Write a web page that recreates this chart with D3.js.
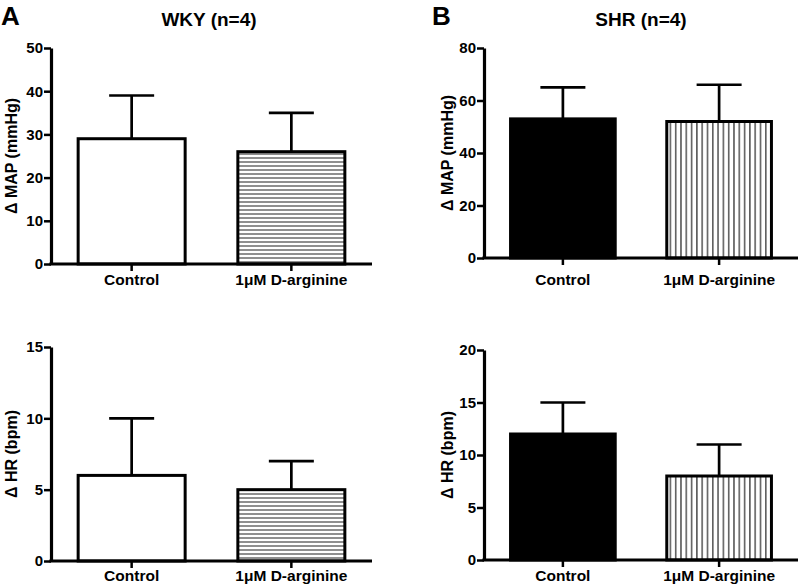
<!DOCTYPE html>
<html><head><meta charset="utf-8">
<script src="https://cdn.jsdelivr.net/npm/d3@7"></script>
<style>body{margin:0;background:#fff;} text{font-family:"Liberation Sans",Arial,sans-serif;font-weight:bold;fill:#000;}</style>
</head><body>
<svg id="c" width="800" height="588"></svg>
<script>
const categories = ["Control", "1\u03bcM D-arginine"];
const wkyMap = [29, 26];
const wkyMapErr = [39, 35];
const wkyHr = [6, 5];
const wkyHrErr = [10, 7];
const shrMap = [53, 52];
const shrMapErr = [65, 66];
const shrHr = [12, 8];
const shrHrErr = [15, 11];
const mapTicks = { wky: [0, 10, 20, 30, 40, 50], shr: [0, 20, 40, 60, 80] };
const hrTicks = { wky: [0, 5, 10, 15], shr: [0, 5, 10, 15, 20] };

const svg = d3.select("#c");
const defs = svg.append("defs");
// horizontal hatch
const ph = defs.append("pattern").attr("id", "hh").attr("patternUnits", "userSpaceOnUse").attr("width", 8).attr("height", 4);
ph.append("rect").attr("width", 8).attr("height", 4).attr("fill", "#fff");
ph.append("line").attr("x1", 0).attr("x2", 8).attr("y1", 2).attr("y2", 2).attr("stroke", "#333").attr("stroke-width", 1.1);
// vertical hatch
const pv = defs.append("pattern").attr("id", "vh").attr("patternUnits", "userSpaceOnUse").attr("width", 5.3).attr("height", 8);
pv.append("rect").attr("width", 5.3).attr("height", 8).attr("fill", "#fff");
pv.append("line").attr("x1", 2.6).attr("x2", 2.6).attr("y1", 0).attr("y2", 8).attr("stroke", "#111").attr("stroke-width", 1.1);

const panels = [
  { vals: wkyMap, errs: wkyMapErr, ticks: mapTicks.wky, x0: 51, x1: 372, yBot: 264, yTop: 48, label: "\u0394 MAP (mmHg)", lx: 11, fills: ["#fff", "url(#hh)"], catY: 285 },
  { vals: wkyHr, errs: wkyHrErr, ticks: hrTicks.wky, x0: 51, x1: 372, yBot: 561, yTop: 347, label: "\u0394 HR (bpm)", lx: 11, fills: ["#fff", "url(#hh)"], catY: 581 },
  { vals: shrMap, errs: shrMapErr, ticks: mapTicks.shr, x0: 484, x1: 798, yBot: 258, yTop: 48, label: "\u0394 MAP (mmHg)", lx: 447, fills: ["#000", "url(#vh)"], catY: 285 },
  { vals: shrHr, errs: shrHrErr, ticks: hrTicks.shr, x0: 484, x1: 798, yBot: 560, yTop: 350, label: "\u0394 HR (bpm)", lx: 447, fills: ["#000", "url(#vh)"], catY: 581 }
];

panels.forEach(p => {
  const g = svg.append("g");
  const x = d3.scaleBand().domain(categories).range([p.x0, p.x1]).paddingInner(0.33).paddingOuter(0.17);
  const y = d3.scaleLinear().domain([p.ticks[0], p.ticks[p.ticks.length - 1]]).range([p.yBot, p.yTop]);
  const capW = 45;
  // error bars
  categories.forEach((c, i) => {
    const cx = x(c) + x.bandwidth() / 2;
    g.append("line").attr("x1", cx).attr("x2", cx).attr("y1", y(p.vals[i])).attr("y2", y(p.errs[i])).attr("stroke", "#000").attr("stroke-width", 2.7);
    g.append("line").attr("x1", cx - capW / 2).attr("x2", cx + capW / 2).attr("y1", y(p.errs[i])).attr("y2", y(p.errs[i])).attr("stroke", "#000").attr("stroke-width", 2.7);
  });
  // bars
  categories.forEach((c, i) => {
    g.append("rect").attr("x", x(c)).attr("width", x.bandwidth())
      .attr("y", y(p.vals[i])).attr("height", y(0) - y(p.vals[i]))
      .attr("fill", p.fills[i]).attr("stroke", "#000").attr("stroke-width", 3);
  });
  // y axis
  const ya = g.append("g").attr("transform", `translate(${p.x0},0)`)
    .call(d3.axisLeft(y).tickValues(p.ticks).tickSize(7).tickPadding(1).tickSizeOuter(0));
  ya.select("path").attr("stroke", "#000").attr("stroke-width", 3.2);
  ya.selectAll("line").attr("stroke", "#000").attr("stroke-width", 2.5);
  ya.selectAll("text").attr("font-size", 15).attr("font-family", null).attr("fill", "#000");
  // x axis
  const xa = g.append("g").attr("transform", `translate(0,${p.yBot})`)
    .call(d3.axisBottom(x).tickSize(7).tickSizeOuter(0).tickFormat(""));
  xa.select("path").attr("d", `M${p.x0 - 1.6},0H${p.x1}`).attr("stroke", "#000").attr("stroke-width", 3.2);
  xa.selectAll("line").attr("stroke", "#000").attr("stroke-width", 2.5);
  categories.forEach(c => {
    g.append("text").attr("x", x(c) + x.bandwidth() / 2).attr("y", p.catY).attr("text-anchor", "middle").attr("font-size", 15.5).text(c);
  });
  // y label
  g.append("text").attr("transform", `translate(${p.lx + 5.5},${(p.yTop + p.yBot) / 2}) rotate(-90)`)
    .attr("text-anchor", "middle").attr("font-size", 16).text(p.label);
});

svg.append("text").attr("x", 1).attr("y", 25).attr("font-size", 26).text("A");
svg.append("text").attr("x", 432).attr("y", 25).attr("font-size", 26).text("B");
svg.append("text").attr("x", 209).attr("y", 26).attr("text-anchor", "middle").attr("font-size", 19).text("WKY (n=4)");
svg.append("text").attr("x", 641).attr("y", 26).attr("text-anchor", "middle").attr("font-size", 19).text("SHR (n=4)");
</script>
</body></html>
